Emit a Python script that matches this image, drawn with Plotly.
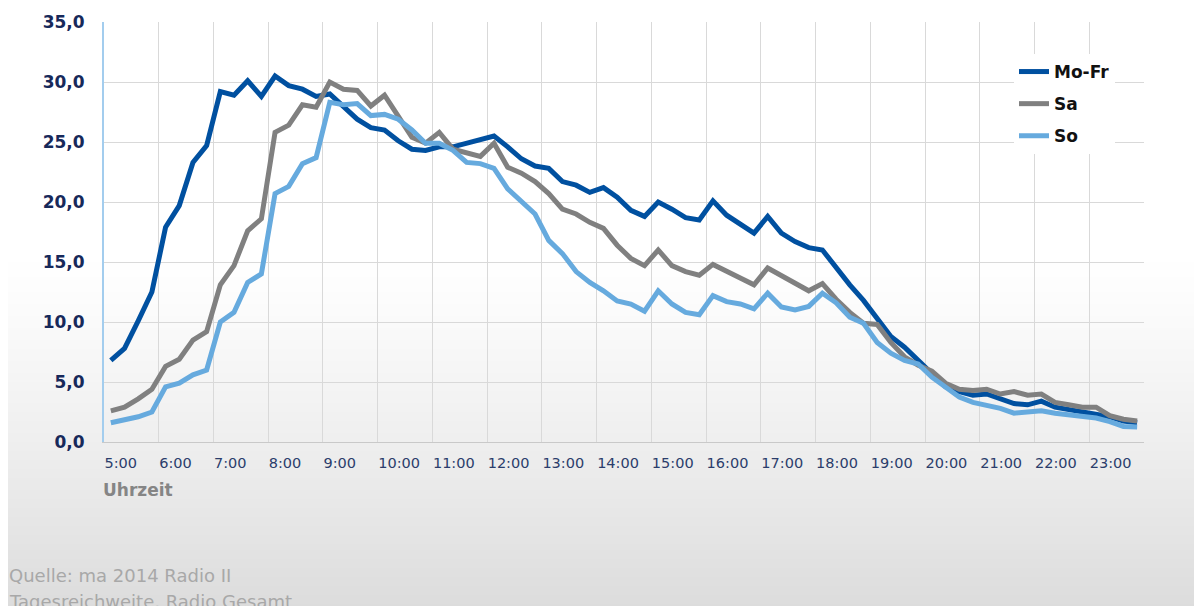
import plotly.graph_objects as go

# ---- data (quarter-hour slots from 5:00 to 23:45) ----
hour_labels = ["5:00", "6:00", "7:00", "8:00", "9:00", "10:00", "11:00", "12:00",
               "13:00", "14:00", "15:00", "16:00", "17:00", "18:00", "19:00",
               "20:00", "21:00", "22:00", "23:00"]
hours = list(range(5, 24))

mo_fr = [6.8, 7.8, 10.1, 12.5, 17.9, 19.7, 23.3, 24.7, 29.2, 28.9, 30.1, 28.8, 30.5, 29.7, 29.4, 28.8,
         29.0, 27.9, 26.9, 26.2, 26.0, 25.1, 24.4, 24.3, 24.6, 24.6, 24.9, 25.2, 25.5, 24.6, 23.6, 23.0,
         22.8, 21.7, 21.4, 20.8, 21.2, 20.4, 19.3, 18.8, 20.0, 19.4, 18.7, 18.5, 20.1, 18.9, 18.1, 17.4,
         18.8, 17.4, 16.7, 16.2, 16.0, 14.5, 13.1, 11.8, 10.3, 8.8, 7.9, 6.8, 5.6, 4.6, 4.2, 3.9,
         4.0, 3.6, 3.2, 3.1, 3.4, 2.9, 2.7, 2.5, 2.4, 2.1, 1.75, 1.6]
sa = [2.6, 2.9, 3.6, 4.4, 6.3, 6.9, 8.5, 9.2, 13.1, 14.7, 17.6, 18.6, 25.8, 26.4, 28.1, 27.9,
      30.0, 29.4, 29.3, 28.0, 28.9, 27.1, 25.4, 24.9, 25.8, 24.4, 24.1, 23.8, 24.9, 22.9, 22.4, 21.7,
      20.7, 19.4, 19.0, 18.3, 17.8, 16.4, 15.3, 14.7, 16.0, 14.7, 14.2, 13.9, 14.8, 14.2, 13.6, 13.1,
      14.5, 13.9, 13.2, 12.6, 13.2, 11.9, 10.8, 9.9, 9.8, 8.3, 7.1, 6.4, 5.9, 4.9, 4.4, 4.3,
      4.4, 4.0, 4.2, 3.9, 4.0, 3.3, 3.1, 2.9, 2.9, 2.2, 1.9, 1.75]
so = [1.6, 1.8, 2.1, 2.5, 4.6, 4.9, 5.6, 6.0, 10.0, 10.8, 13.3, 14.0, 20.7, 21.3, 23.2, 23.7,
      28.3, 28.1, 28.2, 27.2, 27.3, 26.9, 26.0, 24.9, 24.9, 24.3, 23.3, 23.2, 22.8, 21.1, 20.1, 19.0,
      16.8, 15.7, 14.2, 13.3, 12.6, 11.75, 11.5, 10.9, 12.6, 11.5, 10.8, 10.6, 12.2, 11.7, 11.5, 11.1,
      12.4, 11.25, 11.0, 11.3, 12.4, 11.6, 10.4, 9.9, 8.3, 7.4, 6.8, 6.5, 5.4, 4.6, 3.75, 3.3,
      3.1, 2.8, 2.4, 2.5, 2.6, 2.4, 2.3, 2.1, 2.0, 1.7, 1.3, 1.25]

series_names = ["Mo-Fr", "Sa", "So"]
series_colors = ["#0050a0", "#808080", "#66aade"]

# slot centres (category axis, each slot 15 min wide)
slots = [5 + 0.125 + 0.25 * i for i in range(len(mo_fr))]

fig = go.Figure()
for name, vals, col in zip(series_names, [mo_fr, sa, so], series_colors):
    fig.add_trace(go.Scatter(x=slots, y=vals, mode="lines", name=name, legendgroup=name,
                             line=dict(color=col, width=5)))

W, H = 1194, 606
L, R, T, B = 104, 50, 22, 164
pw, ph = W - L - R, H - T - B

def px_x(px):
    return (px - L) / pw

def px_y(py):
    return (H - B - py) / ph

# background gradient (white -> light grey)
shapes = []
y0, y1, step = 250, 606, 3
py = y0
while py < y1:
    t = (py - y0) / (y1 - y0)
    v = int(round(255 - 35 * t ** 1.2))
    col = f"rgb({v},{v},{v})"
    shapes.append(dict(type="rect", xref="paper", yref="paper",
                       x0=px_x(8), x1=px_x(W + 2), y0=px_y(py + step + 0.5), y1=px_y(py),
                       fillcolor=col, line=dict(width=0), layer="below"))
    py += step

fig.update_layout(
    width=W, height=H,
    margin=dict(l=L, r=R, t=T, b=B),
    paper_bgcolor="white",
    plot_bgcolor="rgba(0,0,0,0)",
    separators=",.",
    shapes=shapes,
    showlegend=True,
    legend=dict(x=px_x(1014), y=px_y(54), xanchor="left", yanchor="top",
                bgcolor="white", borderwidth=0,
                font=dict(family="DejaVu Sans", size=17, color="#111111", weight="bold"),
                tracegroupgap=7, traceorder="grouped"),
    xaxis=dict(range=[5, 24], tickmode="array", tickvals=hours + [24],
               ticktext=hour_labels + [""], ticklabelposition="outside right",
               showgrid=True, gridcolor="#d9d9d9", gridwidth=1,
               showline=True, linecolor="#c9c9c9", linewidth=1, zeroline=False,
               ticks="", ticklabelstandoff=8,
               tickfont=dict(family="DejaVu Sans", size=14.5, color="#2b3d6b")),
    yaxis=dict(range=[0, 35], tickmode="linear", tick0=0, dtick=5, tickformat=".1f",
               showgrid=True, gridcolor="#d9d9d9", gridwidth=1,
               showline=True, linecolor="#a3cdee", linewidth=2, zeroline=False,
               ticks="", ticklabelstandoff=14,
               tickfont=dict(family="DejaVu Sans", size=17, color="#17295a", weight="bold")),
    annotations=[
        dict(text="<b>Uhrzeit</b>", xref="paper", yref="paper", x=px_x(101), y=px_y(490),
             xanchor="left", yanchor="middle", showarrow=False,
             font=dict(family="DejaVu Sans", size=17, color="#858585")),
        dict(text="Quelle: ma 2014 Radio II", xref="paper", yref="paper", x=px_x(7), y=px_y(575),
             xanchor="left", yanchor="middle", showarrow=False,
             font=dict(family="DejaVu Sans", size=18, color="#a8a8a8")),
        dict(text="Tagesreichweite, Radio Gesamt", xref="paper", yref="paper", x=px_x(7), y=px_y(601),
             xanchor="left", yanchor="middle", showarrow=False,
             font=dict(family="DejaVu Sans", size=18, color="#a8a8a8")),
    ],
)

fig.write_html("out.html")
